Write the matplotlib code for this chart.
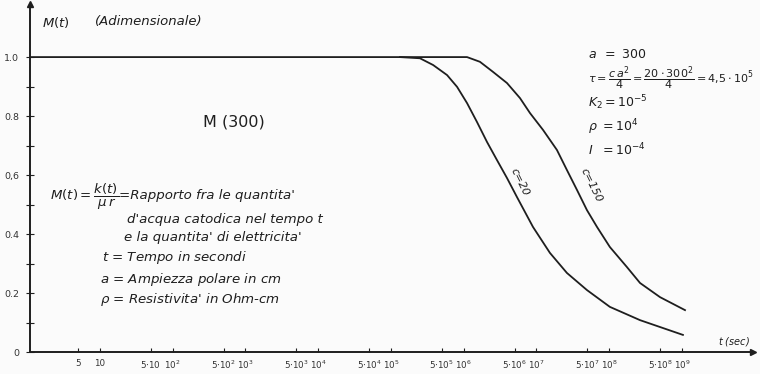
import numpy as np
import matplotlib
matplotlib.use("Agg")
import matplotlib.pyplot as plt

plt.rcParams['font.family'] = ['DejaVu Sans']
plt.rcParams['mathtext.fontset'] = 'dejavusans'

# t in seconds, M(t) dimensionless
t_c20 = [1.1, 1.0e4, 1.33e5, 2.5e5, 3.8e5, 5.9e5, 8.1e5, 1.11e6, 1.52e6,
         2.09e6, 2.86e6, 3.93e6, 5.4e6, 8.95e6, 1.53e7, 2.62e7, 4.94e7,
         1.02e8, 2.65e8, 1.03e9]
m_c20 = [1.0, 1.0, 1.0, 0.996, 0.973, 0.939, 0.899, 0.844, 0.780,
         0.712, 0.651, 0.590, 0.525, 0.424, 0.336, 0.268, 0.210,
         0.153, 0.108, 0.058]

t_c150 = [1.33e5, 4.0e5, 1.11e6, 1.67e6, 2.52e6, 3.93e6, 5.93e6, 8.15e6,
          1.23e7, 1.91e7, 2.62e7, 3.61e7, 4.94e7, 6.79e7, 1.02e8, 1.75e8,
          2.65e8, 4.99e8, 1.10e9]
m_c150 = [1.0, 1.0, 1.0, 0.984, 0.950, 0.912, 0.861, 0.810,
          0.753, 0.685, 0.617, 0.549, 0.481, 0.424, 0.356, 0.288,
          0.234, 0.186, 0.142]

x_ticks = [5, 10, 50, 1e2, 5e2, 1e3, 5e3, 1e4, 5e4, 1e5, 5e5, 1e6,
           5e6, 1e7, 5e7, 1e8, 5e8, 1e9]
x_labels = ['5', '10', r'$5{\cdot}10$', r'$10^2$', r'$5{\cdot}10^2$', r'$10^3$',
            r'$5{\cdot}10^3$', r'$10^4$', r'$5{\cdot}10^4$', r'$10^5$',
            r'$5{\cdot}10^5$', r'$10^6$', r'$5{\cdot}10^6$', r'$10^7$',
            r'$5{\cdot}10^7$', r'$10^8$', r'$5{\cdot}10^8$', r'$10^9$']
y_ticks = [0, 0.2, 0.4, 0.6, 0.8, 1.0]
y_labels = ['0', '0.2', '0.4', '0,6', '0.8', '1.0']

W, H = 760, 374
ink = '#1e1e1e'


def px(x, y):
    return x / W, 1 - y / H


fig = plt.figure(figsize=(W / 100, H / 100), dpi=100, facecolor='#fbfbfb')
ax = fig.add_axes([30 / W, 22 / H, 723 / W, 348 / H])
ax.set_facecolor('#fbfbfb')

ax.plot(t_c20, m_c20, color=ink, lw=1.3, solid_joinstyle='round')
ax.plot(t_c150, m_c150, color=ink, lw=1.3, solid_joinstyle='round')

ax.set_xscale('log')
ax.set_xlim(10 ** 0.038, 10 ** 9.976)
ax.set_ylim(0, 1.18)

ax.set_xticks(x_ticks)
ax.set_xticklabels(x_labels, fontsize=6.3)
ax.xaxis.set_minor_locator(matplotlib.ticker.NullLocator())
ax.set_yticks(y_ticks)
ax.set_yticklabels(y_labels, fontsize=6.8)
ax.set_yticks(np.arange(0.1, 1.0, 0.2), minor=True)
ax.tick_params(axis='x', direction='in', length=3, width=0.8, pad=5, colors=ink,
               labelcolor='#333333')
ax.tick_params(axis='y', which='both', direction='inout', length=6, width=0.8,
               pad=5, colors=ink, labelcolor='#333333')

for s in ['top', 'right']:
    ax.spines[s].set_visible(False)
for s in ['left', 'bottom']:
    ax.spines[s].set_color(ink)
    ax.spines[s].set_linewidth(1.4)

ax.plot(1, 0, marker='>', ms=5, color=ink, transform=ax.transAxes, clip_on=False)
ax.plot(0, 1, marker='^', ms=5, color=ink, transform=ax.transAxes, clip_on=False)

it = dict(style='italic', color=ink)

fig.text(*px(42, 22), r'$M(t)$', fontsize=9.5, va='center', color=ink)
fig.text(*px(95, 22), '(Adimensionale)', fontsize=9.5, va='center', **it)
fig.text(*px(750, 342), r'$t$ (sec)', fontsize=7, va='center', ha='right', **it)

fig.text(*px(203, 122), 'M (300)', fontsize=11.5, va='center', color=ink)

fs = 9.6
# formula and its wording are two texts so the fraction does not run into line 2
fig.text(*px(50, 197), r"$M(t)=\dfrac{k(t)}{\mu\,r}$", fontsize=9.6, va='center', color=ink)
fig.text(*px(119, 196), "=Rapporto fra le quantita'", fontsize=fs, va='center', **it)
fig.text(*px(127, 219), "d'acqua catodica nel tempo t", fontsize=fs, va='center', **it)
fig.text(*px(124, 238), "e la quantita' di elettricita'", fontsize=fs, va='center', **it)
fig.text(*px(102, 258), r"$t$ = Tempo in secondi", fontsize=fs, va='center', **it)
fig.text(*px(100, 279), r"$a$ = Ampiezza polare in cm", fontsize=fs, va='center', **it)
fig.text(*px(100, 299), r"$\rho$ = Resistivita' in Ohm-cm", fontsize=fs, va='center', **it)

fig.text(*px(588, 55), r'$a\ \,=\ 300$', fontsize=9, va='center', color=ink)
fig.text(*px(588, 79), r'$\tau = \dfrac{c\,a^2}{4} = \dfrac{20\cdot 300^2}{4} = 4{,}5\cdot 10^5$',
         fontsize=8, va='center', color=ink)
fig.text(*px(588, 103), r'$K_2 = 10^{-5}$', fontsize=9, va='center', color=ink)
fig.text(*px(588, 127), r'$\rho\ = 10^{4}$', fontsize=9, va='center', color=ink)
fig.text(*px(588, 150), r'$I\ \ = 10^{-4}$', fontsize=9, va='center', color=ink)

fig.text(*px(520, 182), 'c=20', fontsize=8, rotation=-64, ha='center', va='center', **it)
fig.text(*px(591, 185), 'c=150', fontsize=8, rotation=-64, ha='center', va='center', **it)

fig.savefig('out.png', dpi=100, facecolor=fig.get_facecolor())
